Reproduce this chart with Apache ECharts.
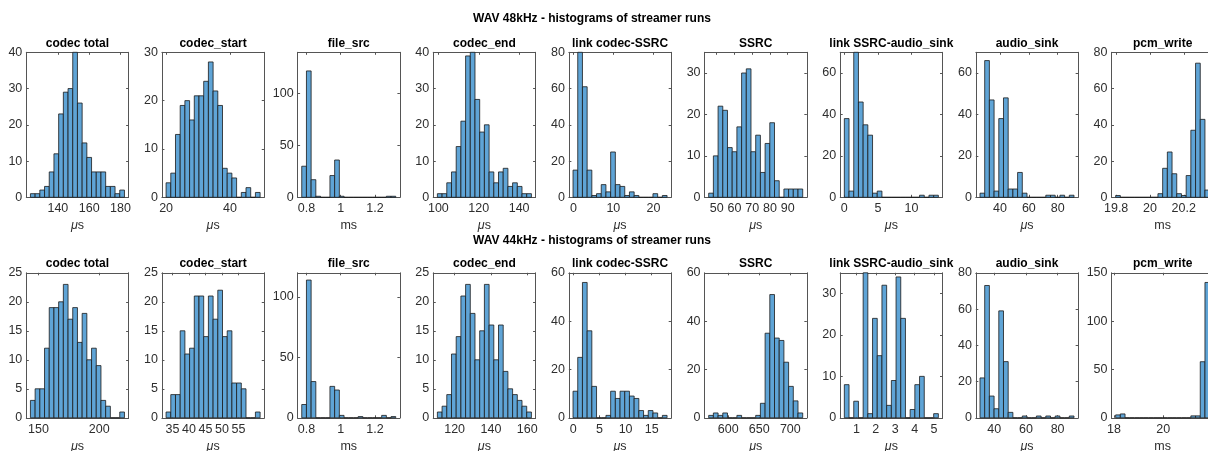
<!DOCTYPE html>
<html>
<head>
<meta charset="utf-8">
<script src="https://cdn.jsdelivr.net/npm/echarts@6/dist/echarts.min.js"></script>
<style>html,body{margin:0;padding:0;background:#fff}#chart{width:1208px;height:451px}</style>
</head>
<body>
<div id="chart"></div>
<script>
// ---------- text ----------
const figureTitles = ['WAV 48kHz - histograms of streamer runs', 'WAV 44kHz - histograms of streamer runs'];
const panelTitles = ['codec total', 'codec_start', 'file_src', 'codec_end', 'link codec-SSRC', 'SSRC', 'link SSRC-audio_sink', 'audio_sink', 'pcm_write'];
const panelUnits = ['us', 'us', 'ms', 'us', 'us', 'us', 'us', 'us', 'ms'];

// ---------- WAV 48 kHz: bin counts (20 bins each) ----------
const c48_codecTotal = [1,1,2,3,7,12,23,29,30,40,26,15,11,7,7,7,3,3,1,2];
const c48_codecStart = [3,5,13,19,20,16,21,21,24,28,22,19,6,5,4,0,1,2,0,1];
const c48_fileSrc    = [30,122,17,1,0,0,21,36,1,0,0,0,0,0,0,0,0,0,1,1];
const c48_codecEnd   = [1,1,4,7,14,21,39,40,27,18,20,7,4,7,8,3,4,3,1,1];
const c48_linkCodec  = [15,80,61,15,1,2,7,3,25,7,6,1,3,1,0,0,0,2,0,1];
const c48_ssrc       = [1,10,22,21,12,11,17,30,31,11,15,6,13,18,4,0,2,2,2,2];
const c48_linkSsrc   = [38,3,70,46,35,30,2,3,0,0,0,0,0,0,0,0,1,0,1,1];
const c48_audioSink  = [2,66,47,3,38,48,4,4,12,2,0,0,0,0,1,1,0,1,0,1];
const c48_pcmWrite   = [1,0,0,0,0,0,0,0,0,2,16,25,13,2,1,12,37,74,43,4];
const binStart48 = [122.5, 20.0, 0.772, 99.5, -0.08, 45.5, 0, 26.1, 19.797];
const binWidth48 = [3.0, 1.47, 0.0275, 2.33, 1.175, 2.65, 0.7, 3.26, 0.0278];
const xTicks48 = [[140,160,180],[20,40],[0.8,1,1.2],[100,120,140],[0,10,20],[50,60,70,80,90],[0,5,10],[40,60,80],[19.8,20,20.2]];
const yTicks48 = [[0,10,20,30,40],[0,10,20,30],[0,50,100],[0,10,20,30,40],[0,20,40,60,80],[0,10,20,30],[0,20,40,60],[0,20,40,60],[0,20,40,60,80]];
const yMax48 = [40, 30, 140, 40, 80, 35, 70, 70, 80];

// ---------- WAV 44 kHz: bin counts (20 bins each) ----------
const c44_codecTotal = [3,5,5,12,19,19,20,23,17,19,13,18,10,12,9,3,2,0,0,1];
const c44_codecStart = [1,4,4,15,11,12,21,21,14,21,17,22,14,15,6,6,5,0,0,1];
const c44_fileSrc    = [11,114,30,0,0,0,26,23,2,0,0,0,1,0,0,0,0,2,0,1];
const c44_codecEnd   = [1,2,4,11,14,21,23,18,10,15,23,16,10,16,8,5,4,3,2,1];
const c44_linkCodec  = [11,25,56,36,13,0,0,1,11,8,11,11,9,8,3,1,3,2,0,1];
const c44_ssrc       = [1,2,1,2,0,0,1,0,0,0,1,6,35,51,33,32,23,13,7,2];
const c44_linkSsrc   = [8,0,4,0,35,1,24,15,32,3,9,34,24,0,2,8,10,0,0,1];
const c44_audioSink  = [22,73,12,5,59,31,3,0,0,1,0,0,1,0,1,0,1,0,0,1];
const c44_pcmWrite   = [3,4,0,0,0,0,0,0,0,0,0,0,0,0,0,0,2,2,58,140];
const binStart44 = [143.4, 33.09, 0.772, 110.5, -0.06, 568.4, 0.38, 30.98, 18.07];
const binWidth44 = [3.87, 1.424, 0.0275, 2.59, 0.9, 7.58, 0.242, 2.97, 0.191];
const xTicks44 = [[150,200],[35,40,45,50,55],[0.8,1,1.2],[120,140,160],[0,5,10,15],[600,650,700],[1,2,3,4,5],[40,60,80],[18,20]];
const yTicks44 = [[0,5,10,15,20,25],[0,5,10,15,20,25],[0,50,100],[0,5,10,15,20,25],[0,20,40,60],[0,20,40,60],[0,10,20,30],[0,20,40,60,80],[0,50,100,150]];
const yMax44 = [25, 25, 120, 25, 60, 60, 35, 80, 150];

const rows = [
  {counts: [c48_codecTotal, c48_codecStart, c48_fileSrc, c48_codecEnd, c48_linkCodec, c48_ssrc, c48_linkSsrc, c48_audioSink, c48_pcmWrite],
   start: binStart48, width: binWidth48, xt: xTicks48, yt: yTicks48, ymax: yMax48},
  {counts: [c44_codecTotal, c44_codecStart, c44_fileSrc, c44_codecEnd, c44_linkCodec, c44_ssrc, c44_linkSsrc, c44_audioSink, c44_pcmWrite],
   start: binStart44, width: binWidth44, xt: xTicks44, yt: yTicks44, ymax: yMax44}
];

// ---------- layout / style ----------
const FONT = '"Liberation Sans", Arial, Helvetica, sans-serif';
const AXIS_COLOR = '#555555';
const TEXT_COLOR = '#2e2e2e';
const BAR_FILL = '#5fa4d6';
const BAR_EDGE = '#1a1a1a';
const colLeft0 = 26.3, colStep = 135.65, axW = 102.3, axH = 145;
const rowTop = [52.3, 272.8];
const supY = [18.3, 240.3];
const supX = 592;
const padFrac = 0.88;

const grids = [], xAxes = [], yAxes = [], series = [], graphics = [];

figureTitles.forEach((t, r) => {
  graphics.push({type: 'text', x: supX, y: supY[r], style: {text: t, fontSize: 12, fontWeight: 'bold', fontFamily: FONT, fill: '#000', align: 'center', verticalAlign: 'middle'}});
});

rows.forEach((row, r) => {
  for (let c = 0; c < 9; c++) {
    const gi = grids.length;
    const left = colLeft0 + c * colStep;
    const top = rowTop[r];
    grids.push({left: left, top: top, width: axW, height: axH, containLabel: false, outerBoundsMode: 'none', show: false});
    const counts = row.counts[c];
    const s = row.start[c], w = row.width[c];
    const xmin = s - padFrac * w, xmax = s + (counts.length + padFrac) * w;
    const xt = row.xt[c], yt = row.yt[c];
    const lineStyle = {color: AXIS_COLOR, width: 1};
    const unitName = panelUnits[c] === 'us' ? '{i|\u03bc}s' : 'ms';
    xAxes.push({
      gridIndex: gi, type: 'value', position: 'bottom', min: xmin, max: xmax,
      axisLine: {show: true, onZero: false, lineStyle: lineStyle},
      axisTick: {show: true, inside: true, length: 2.5, customValues: xt, lineStyle: lineStyle},
      axisLabel: {show: true, customValues: xt, margin: 5, fontSize: 12.5, fontFamily: FONT, color: TEXT_COLOR, hideOverlap: false},
      splitLine: {show: false},
      name: unitName, nameLocation: 'middle', nameGap: 22, nameMoveOverlap: false,
      nameTextStyle: {fontSize: 12.5, fontFamily: FONT, color: TEXT_COLOR,
        rich: {i: {fontSize: 12.5, fontFamily: FONT, color: TEXT_COLOR, fontStyle: 'italic'}}}
    });
    xAxes.push({
      gridIndex: gi, type: 'value', position: 'top', min: xmin, max: xmax,
      axisLine: {show: true, onZero: false, lineStyle: lineStyle},
      axisTick: {show: true, inside: true, length: 2.5, customValues: xt, lineStyle: lineStyle},
      axisLabel: {show: false}, splitLine: {show: false}
    });
    yAxes.push({
      gridIndex: gi, type: 'value', position: 'left', min: 0, max: row.ymax[c],
      axisLine: {show: true, onZero: false, lineStyle: lineStyle},
      axisTick: {show: true, inside: true, length: 2.5, customValues: yt, lineStyle: lineStyle},
      axisLabel: {show: true, customValues: yt, margin: 4, fontSize: 12.5, fontFamily: FONT, color: TEXT_COLOR, hideOverlap: false},
      splitLine: {show: false}
    });
    yAxes.push({
      gridIndex: gi, type: 'value', position: 'right', min: 0, max: row.ymax[c],
      axisLine: {show: true, onZero: false, lineStyle: lineStyle},
      axisTick: {show: true, inside: true, length: 2.5, customValues: yt, lineStyle: lineStyle},
      axisLabel: {show: false}, splitLine: {show: false}
    });
    const data = counts.map((n, k) => [s + k * w, s + (k + 1) * w, n]);
    series.push({
      type: 'custom', xAxisIndex: 2 * gi, yAxisIndex: 2 * gi, data: data,
      encode: {x: [0, 1], y: 2}, clip: false, silent: true,
      renderItem: function (params, api) {
        const p0 = api.coord([api.value(0), api.value(2)]);
        const p1 = api.coord([api.value(1), 0]);
        return {type: 'rect', shape: {x: p0[0], y: p0[1], width: p1[0] - p0[0], height: p1[1] - p0[1]},
          style: {fill: BAR_FILL, stroke: BAR_EDGE, lineWidth: 0.8}};
      }
    });
    graphics.push({type: 'text', x: left + axW / 2, y: top - 8.8, style: {text: panelTitles[c], fontSize: 12, fontWeight: 'bold', fontFamily: FONT, fill: '#000', align: 'center', verticalAlign: 'middle'}});
  }
});

const chart = echarts.init(document.getElementById('chart'));
chart.setOption({
  animation: false,
  backgroundColor: '#ffffff',
  grid: grids, xAxis: xAxes, yAxis: yAxes, series: series, graphic: graphics
});
</script>
</body>
</html>
